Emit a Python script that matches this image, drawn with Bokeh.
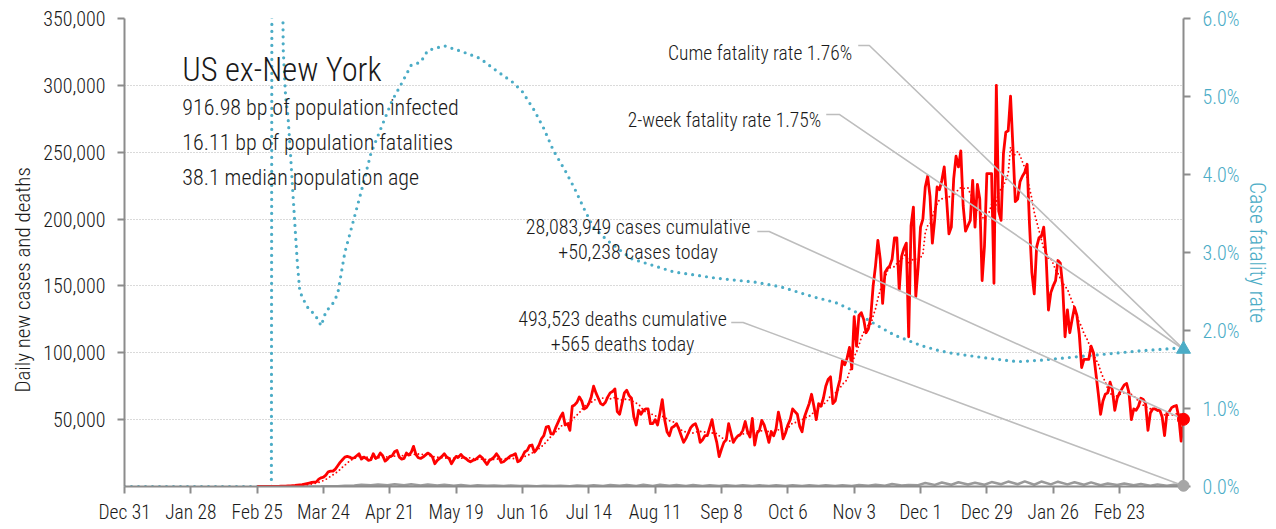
import numpy as np
import pandas as pd
from bokeh.plotting import figure
from bokeh.models import Range1d, LinearAxis, FixedTicker, NumeralTickFormatter, PrintfTickFormatter, Label, Title
from bokeh.embed import file_html
from bokeh.resources import INLINE

FONT = "Roboto Condensed Light, Roboto Condensed, Liberation Sans Narrow, Roboto"

# ---------------- data ----------------
ORIGIN = "2019-12-31"
tick_dates = ["2019-12-31", "2020-01-28", "2020-02-25", "2020-03-24", "2020-04-21", "2020-05-19",
              "2020-06-16", "2020-07-14", "2020-08-11", "2020-09-08", "2020-10-06", "2020-11-03",
              "2020-12-01", "2020-12-29", "2021-01-26", "2021-02-23"]
tick_labels = ["Dec 31", "Jan 28", "Feb 25", "Mar 24", "Apr 21", "May 19", "Jun 16", "Jul 14",
               "Aug 11", "Sep 8", "Oct 6", "Nov 3", "Dec 1", "Dec 29", "Jan 26", "Feb 23"]
y_ticks = [50000, 100000, 150000, 200000, 250000, 300000, 350000]
cfr_ticks = [0, 1, 2, 3, 4, 5, 6]

# daily new cases (thousands), one row per week Tue..Mon, starting 2020-02-25
cases_start = "2020-02-25"
daily_cases_k = [
    0, 0, 0, 0, 0, 0.01, 0.02,
    0.05, 0.1, 0.1, 0.2, 0.3, 0.3, 0.4,
    0.5, 0.7, 0.8, 1.0, 1.2, 1.4, 1.8,
    2.2, 2.6, 3.0, 3.2, 3.4, 5.5, 6.5,
    7.0, 8.5, 11.0, 11.5, 11.5, 13.0, 15.5,
    18.0, 20.0, 22.0, 22.5, 22.0, 21.0, 21.5,
    23.0, 24.5, 20.5, 22.0, 21.0, 19.5, 20.0,
    24.5, 21.0, 22.0, 25.0, 23.0, 19.0, 20.5,
    22.5, 23.0, 26.0, 27.0, 22.0, 20.5, 21.0,
    25.0, 23.5, 25.5, 30.0, 24.0, 21.5, 21.0,
    22.0, 23.5, 25.0, 24.0, 22.0, 17.0, 19.5,
    21.0, 22.5, 24.5, 22.0, 21.0, 17.0, 20.0,
    22.5, 22.0, 24.0, 22.0, 21.0, 19.5, 18.5,
    19.5, 20.0, 21.5, 23.0, 21.5, 19.0, 16.5,
    19.5, 20.5, 22.0, 24.5, 22.0, 18.0, 18.5,
    20.0, 21.5, 23.0, 23.5, 24.5, 18.5, 19.5,
    22.5, 26.0, 27.0, 30.5, 31.0, 25.7, 28.0,
    31.0, 35.7, 38.0, 44.4, 45.0, 39.4, 39.4,
    44, 48, 52, 55, 46, 47, 42,
    60, 61, 63, 67, 64, 58, 59,
    62, 67, 75, 70, 66, 62, 61,
    63, 67, 70, 71, 73, 56, 54,
    62, 70, 72, 68, 66, 52, 46,
    57, 54, 57, 58, 58, 47, 47,
    50, 46, 55, 65, 50, 41, 38,
    44, 45, 47, 43, 38, 33, 36,
    40, 44, 46, 47, 42, 33, 35,
    38, 38, 44, 50, 40, 33, 22.4,
    28, 33, 35, 47, 40, 33, 36,
    38, 39, 42, 48.6, 41, 37, 51,
    31, 40, 42, 49.4, 46, 40, 33,
    41, 38, 43, 55.6, 48, 35.7, 40,
    46, 50, 58, 56, 54, 45, 41,
    52, 57, 62, 69, 60, 50, 62,
    60, 66, 75, 80, 82, 62, 64,
    73, 80, 94, 91, 96, 104, 88,
    127, 105, 128, 130, 125, 115, 118,
    127, 150, 165, 184, 170, 137, 160,
    163, 165, 170, 186, 186, 147, 172,
    178, 182, 112, 195, 209, 142, 164,
    194, 200, 224, 232, 217, 182, 200,
    224, 222, 229, 239, 215, 189, 194,
    230, 247, 239, 251, 210, 191, 195,
    199, 229, 194, 226, 215, 154, 180,
    234, 234, 234, 152, 300, 206, 199,
    249, 265, 266, 292, 254, 213, 215,
    228, 232, 235, 241, 196, 160, 144,
    179, 186, 187, 194, 172, 132, 145,
    150, 154, 169, 167, 150, 112, 132,
    115, 125, 134, 128, 114, 89, 95,
    95, 95, 105, 100, 85, 70, 54,
    64, 69, 70, 78, 72, 57, 66,
    70, 73, 76, 77, 70, 50, 58,
    57, 60, 66, 65, 62, 42, 55,
    58, 58, 57, 57, 52, 38, 55,
    56, 59, 60, 60.6, 52, 34, 50.238,
]

# daily deaths, read at days since 2019-12-31
death_day = [60, 70, 77, 83,
             86, 90, 93, 97, 100, 104, 107, 111, 114, 118, 121, 125, 128, 132, 135, 139,
             142, 146, 149, 153, 156, 160, 163, 167, 170, 174, 177, 181, 184, 188, 191, 195,
             198, 202, 205, 209, 212, 216, 219, 223, 226, 230, 233, 237, 240, 244, 247, 251,
             254, 258, 261, 265, 268, 272, 275, 279, 282, 286, 289, 293, 296, 300, 303, 307,
             310, 314, 317, 321, 324, 328, 331, 335, 338, 342, 345, 349, 352, 356, 359, 363,
             366, 370, 373, 377, 380, 384, 387, 391, 394, 398, 401, 405, 408, 412, 415, 419,
             422, 426, 429, 433, 436, 440, 443, 447]
deaths = [0, 5, 30, 100,
          150, 250, 600, 700, 1300, 1000, 1500, 900, 1700, 900, 1600, 800, 1500, 700, 1300, 600,
          1100, 400, 1000, 500, 800, 400, 700, 300, 650, 250, 550, 300, 600, 250, 800, 400,
          950, 450, 1100, 500, 1200, 450, 1300, 450, 1300, 500, 1100, 450, 1050, 400, 950, 300,
          1000, 400, 850, 300, 850, 300, 850, 350, 850, 400, 900, 400, 950, 450, 1000, 450,
          1100, 600, 1300, 600, 1800, 800, 1100, 1000, 2600, 1200, 3000, 1300, 3200, 1500, 2800, 1300,
          3300, 1700, 3700, 1700, 3800, 1300, 3700, 1600, 3600, 1600, 3200, 1300, 3100, 900, 2300, 1100,
          2200, 1000, 1900, 600, 1600, 500, 1300, 565]

# cumulative case fatality rate (%), read at days since 2019-12-31
cfr_day = [0, 62, 63, 65, 66, 67, 68, 69, 70, 71,
           72, 73, 74, 76, 78, 80, 82, 83, 85, 88,
           90, 93, 97, 100, 104, 109, 113, 117, 121, 125,
           128, 135, 143, 150, 157, 164, 168, 173, 177, 181,
           186, 190, 194, 198, 204, 214, 232, 250, 266, 277,
           291, 300, 308, 312, 318, 325, 331, 336, 344, 349,
           363, 377, 387, 401, 415, 429, 443, 447]
cfr_pct = [0, 0, 30, 30, 9, 5.6, 5.0, 4.75, 4.3, 3.8,
           3.32, 2.85, 2.5, 2.37, 2.26, 2.22, 2.12, 2.06, 2.24, 2.35,
           2.47, 3.0, 3.45, 3.79, 4.27, 4.65, 4.95, 5.17, 5.4, 5.44,
           5.59, 5.65, 5.57, 5.49, 5.33, 5.18, 5.06, 4.82, 4.59, 4.31,
           4.05, 3.82, 3.56, 3.32, 3.15, 2.92, 2.75, 2.67, 2.62, 2.56,
           2.43, 2.36, 2.25, 2.17, 2.06, 1.94, 1.87, 1.81, 1.74, 1.71,
           1.65, 1.60, 1.62, 1.66, 1.70, 1.74, 1.77, 1.76]

title_text = "US ex-New York"
stat_lines = ["916.98 bp of population infected",
              "16.11 bp of population fatalities",
              "38.1 median population age"]
cume_text = "Cume fatality rate 1.76%"
twoweek_text = "2-week fatality rate 1.75%"
cases_lines = ["28,083,949 cases cumulative", "+50,238 cases today"]
deaths_lines = ["493,523 deaths cumulative", "+565 deaths today"]
left_title = "Daily new cases and deaths"
right_title = "Case fatality rate"

# ---------------- derived ----------------
origin = pd.Timestamp(ORIGIN)
case_days = np.array((pd.date_range(cases_start, periods=len(daily_cases_k)) - origin).days, dtype=float)
cases = np.array(daily_cases_k, dtype=float) * 1000
cases_avg = pd.Series(cases).rolling(7).mean().to_numpy()
tick_days = [int((pd.Timestamp(t) - origin).days) for t in tick_dates]
last_day = case_days[-1]

RED = "#ff0000"
BLUE = "#4bacc6"
GRAYL = "#bdbdbd"
AXIS = "#8c8c8c"
TXT = "#1a1a1a"

p = figure(frame_width=1059, frame_height=468,
           x_range=Range1d(0, last_day), y_range=Range1d(0, 350000),
           output_backend="svg", toolbar_location=None,
           min_border_left=124, min_border_right=90, min_border_top=18, min_border_bottom=40,
           outline_line_color=None, background_fill_color="white", border_fill_color="white")
p.extra_y_ranges = {"cfr": Range1d(0, 6)}

# grid
p.xgrid.grid_line_color = None
p.ygrid.ticker = FixedTicker(ticks=y_ticks)
p.ygrid.grid_line_color = "#b5b5b5"
p.ygrid.grid_line_dash = "1 2"
p.ygrid.grid_line_width = 1

# axes
p.xaxis.ticker = FixedTicker(ticks=tick_days)
p.xaxis.major_label_overrides = {d: l for d, l in zip(tick_days, tick_labels)}
p.yaxis.ticker = FixedTicker(ticks=y_ticks)
p.yaxis.formatter = NumeralTickFormatter(format="0,0")

raxis = LinearAxis(y_range_name="cfr", ticker=FixedTicker(ticks=cfr_ticks),
                   formatter=PrintfTickFormatter(format="%.1f%%"))
p.add_layout(raxis, "right")

for ax in [p.xaxis[0], p.yaxis[0], raxis]:
    ax.axis_line_color = AXIS
    ax.axis_line_width = 2
    ax.major_tick_line_color = AXIS
    ax.major_tick_line_width = 2
    ax.major_tick_out = 7
    ax.major_tick_in = 0
    ax.minor_tick_line_color = None
    ax.major_label_text_font = FONT
    ax.major_label_text_font_size = "20px"
    ax.major_label_text_color = TXT
    ax.major_label_standoff = 12
p.xaxis[0].major_label_standoff = 7
p.xaxis[0].major_label_text_font_size = "19.5px"
raxis.major_label_text_color = BLUE
raxis.axis_label = right_title
raxis.axis_label_text_font = FONT
raxis.axis_label_text_font_size = "21.5px"
raxis.axis_label_text_font_style = "normal"
raxis.axis_label_text_color = BLUE
raxis.axis_label_standoff = 2

p.add_layout(Title(text=left_title, align="left", offset=94, text_font=FONT,
                   text_font_size="21px", text_font_style="normal", text_color=TXT,
                   standoff=12), "left")

# series
p.line(cfr_day, cfr_pct, y_range_name="cfr", line_color=BLUE, line_width=3.2,
       line_dash="0 7", line_cap="round")
p.line(death_day, deaths, line_color="#9a9a9a", line_width=2.5)
p.line(case_days, cases_avg, line_color=RED, line_width=1.9, line_dash="0 4", line_cap="round")
p.line(case_days, cases, line_color=RED, line_width=2.8, line_join="round")

# leader lines (data space)
def leader(x0, x1, y, xe, ye, rng=None):
    kw = {"y_range_name": rng} if rng else {}
    p.line([x0, x1, xe], [y, y, ye], line_color=GRAYL, line_width=1.6, **kw)

leader(309.7, 314.4, 5.654, last_day, cfr_pct[-1], "cfr")
leader(296.2, 301.7, 4.77, last_day, cfr_pct[-1], "cfr")
leader(267.1, 272.1, 190700, last_day, cases[-1])
leader(256.1, 261.1, 122650, last_day, deaths[-1])

# end markers
m1 = p.scatter([last_day], [deaths[-1]], marker="circle", size=11, color="#a6a6a6")
m2 = p.scatter([last_day], [cases[-1]], marker="circle", size=12, color=RED)
m3 = p.scatter([last_day], [cfr_pct[-1]], y_range_name="cfr", marker="triangle", size=14, color=BLUE)
for m in (m1, m2, m3):
    m.level = "overlay"

# texts
def lab(x, y, text, size, align="left", color=TXT):
    p.add_layout(Label(x=x, y=y, text=text, text_font=FONT, text_font_size=size,
                       text_align=align, text_baseline="alphabetic", text_color=color))

lab(24.4, 311130, title_text, "32.5px")
for t, yy in zip(stat_lines, [283680, 257500, 231320]):
    lab(24.4, yy, t, "22px")
lab(307.2, 324060, cume_text, "19.5px", align="right")
lab(294.1, 273700, twoweek_text, "19.5px", align="right")
lab(216.8, 193940, cases_lines[0], "20px", align="center")
lab(216.8, 175230, cases_lines[1], "20px", align="center")
lab(210.2, 125420, deaths_lines[0], "20px", align="center")
lab(210.2, 106720, deaths_lines[1], "20px", align="center")

open("out.html", "w").write(file_html(p, INLINE))
